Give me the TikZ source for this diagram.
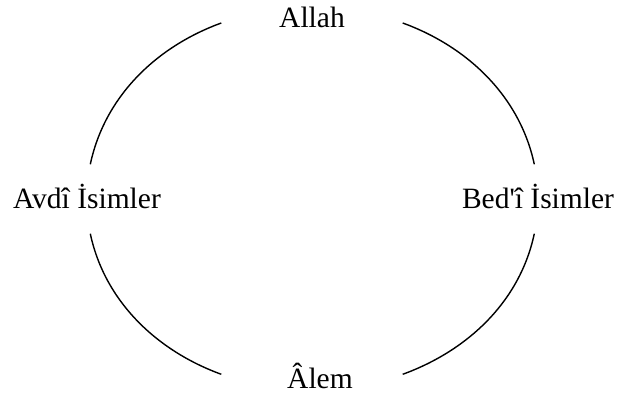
\documentclass[tikz,border=0pt]{standalone}
\usepackage{fontspec}
\setmainfont{Liberation Serif}
\begin{document}
\begin{tikzpicture}[x=1pt, y=1pt, line width=1.4pt,
    word/.style={inner sep=0pt, font=\fontsize{29.5}{32}\selectfont},
    topword/.style={word, minimum width=180pt, text height=14.5pt, text depth=5.5pt},
    bottomword/.style={word, minimum width=180pt, text height=34.5pt, text depth=5.5pt},
    sideword/.style={word, text height=43.3pt, text depth=24.7pt}]
    \useasboundingbox (0,0) rectangle (619,399);
    \node[topword] (allah) at (312,376) {Allah};
    \node[sideword] (avdi) at (90.3,200) {Avdî İsimler\hspace*{6.6pt}};
    \node[sideword] (bedi) at (534.3,200) {\hspace*{7.4pt}Bed\textquotesingle î İsimler};
    \node[bottomword] (alem) at (312,24.7) {\hspace*{16pt}Âlem};

    % Arcs of the ring
    \draw (allah.west) to[out=200, in=78, looseness=0.92] (avdi.north);
    \draw (allah.east) to[out=-20, in=102, looseness=0.92] (bedi.north);
    \draw (avdi.south) to[out=-78, in=160, looseness=0.92] (alem.west);
    \draw (bedi.south) to[out=-102, in=20, looseness=0.92] (alem.east);
\end{tikzpicture}
\end{document}
